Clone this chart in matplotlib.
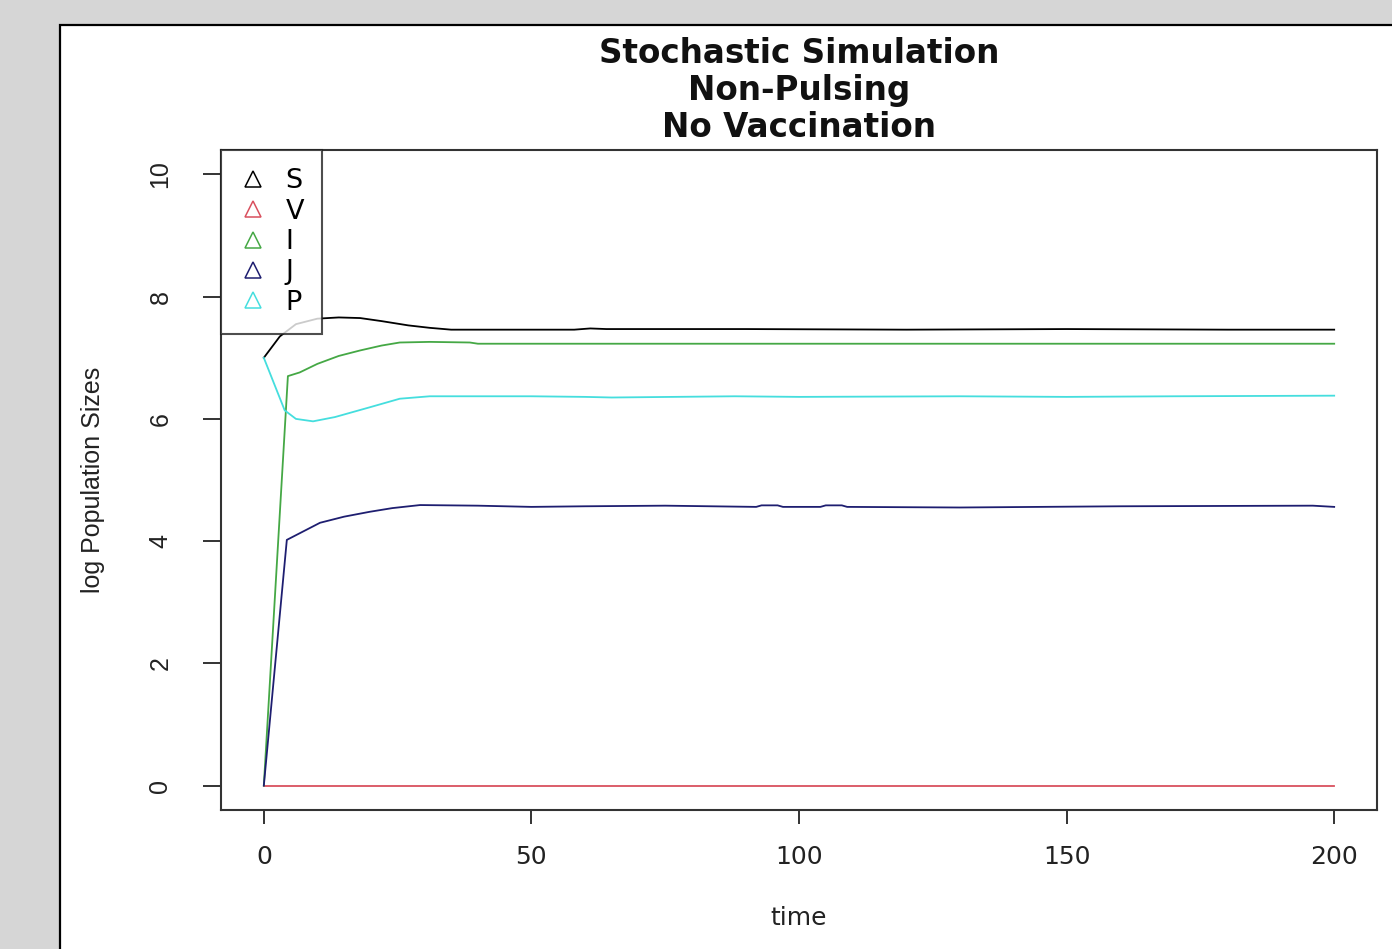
import matplotlib.pyplot as plt
from matplotlib.patches import Rectangle
from matplotlib.lines import Line2D

# log population sizes
S_t = [0, 3, 6, 10, 14, 18, 22, 27, 31, 35, 45, 58, 61, 64, 90, 120, 150, 180, 200]
S_v = [7.00, 7.35, 7.55, 7.64, 7.66, 7.65, 7.60, 7.53, 7.49, 7.46, 7.46, 7.46, 7.48, 7.47, 7.47, 7.46, 7.47, 7.46, 7.46]

V_t = [0, 200]
V_v = [0.0, 0.0]

I_t = [0, 4.5, 6.7, 10, 14, 18, 22, 25.4, 31, 38.5, 40, 80, 120, 160, 200]
I_v = [0.0, 6.70, 6.76, 6.90, 7.03, 7.12, 7.20, 7.25, 7.26, 7.25, 7.23, 7.23, 7.23, 7.23, 7.23]

J_t = [0, 4.3, 10.5, 15, 19.8, 24, 29.2, 40, 50, 60, 75, 92, 93, 96, 97, 104, 105, 108, 109, 130, 160, 196, 200]
J_v = [0.0, 4.02, 4.30, 4.40, 4.48, 4.54, 4.59, 4.58, 4.56, 4.57, 4.58, 4.56, 4.585, 4.585, 4.56, 4.56, 4.585, 4.585, 4.56, 4.55, 4.57, 4.58, 4.56]

P_t = [0, 3.9, 6, 9.2, 13.3, 19.8, 25.4, 31, 50, 60, 65, 88, 100, 130, 150, 170, 200]
P_v = [7.00, 6.14, 6.00, 5.96, 6.03, 6.19, 6.33, 6.37, 6.37, 6.36, 6.35, 6.37, 6.36, 6.37, 6.36, 6.37, 6.38]

labels = ['S', 'V', 'I', 'J', 'P']
colors = ['black', '#d9505e', '#45a845', '#1e1e70', '#45dede']

x_ticks = [0, 50, 100, 150, 200]
y_ticks = [0, 2, 4, 6, 8, 10]

fig = plt.figure(figsize=(13.92, 9.49), dpi=100)
fig.patch.set_facecolor('#d6d6d6')
panel = Rectangle((60 / 1392, -0.1), 1.2, 0.1 + (949 - 25) / 949,
                  transform=fig.transFigure, facecolor='white',
                  edgecolor='black', linewidth=1.6, zorder=-10)
fig.patches.append(panel)

ax = fig.add_axes([221 / 1392, (949 - 810) / 949, (1377 - 221) / 1392, (810 - 150) / 949])
ax.set_zorder(1)
ax.set_facecolor('white')

series = [(S_t, S_v), (V_t, V_v), (I_t, I_v), (J_t, J_v), (P_t, P_v)]
for (t, v), c in zip(series, colors):
    ax.plot(t, v, color=c, linewidth=1.3)

ax.set_xlim(-8, 208)
ax.set_ylim(-0.4, 10.4)
ax.set_xticks(x_ticks)
ax.set_yticks(y_ticks)
ax.set_xticklabels([str(x) for x in x_ticks], fontsize=18, color='#222222')
ax.set_yticklabels([str(y) for y in y_ticks], fontsize=18, color='#222222',
                   rotation=90, va='center', family='Liberation Sans')
ax.tick_params(axis='x', length=10, width=1.4, pad=15, color='#333333')
ax.tick_params(axis='y', length=13, width=1.4, pad=22, color='#333333')
for sp in ax.spines.values():
    sp.set_linewidth(1.5)
    sp.set_color('#333333')

ax.set_xlabel('time', fontsize=18, color='#222222', labelpad=27)
ax.set_ylabel('log Population Sizes', fontsize=18, color='#222222',
              family='Liberation Sans', labelpad=31)

fig.text(799 / 1392, 1 - 90.5 / 949, 'Stochastic Simulation\nNon-Pulsing\nNo Vaccination',
         ha='center', va='center', fontsize=23.5, fontweight='bold',
         linespacing=1.17, color='#111111')

handles = [Line2D([], [], linestyle='none', marker='^', markersize=12,
                  markerfacecolor='none', markeredgecolor=c, markeredgewidth=1.1)
           for c in colors]
leg = ax.legend(handles, labels, loc='upper left', bbox_to_anchor=(0, 1),
                borderaxespad=0, fontsize=19.5, frameon=True, fancybox=False,
                handlelength=1.0, handletextpad=0.7, labelspacing=0.16,
                borderpad=0.68)
leg.get_frame().set_edgecolor('#222222')
leg.get_frame().set_linewidth(1.5)

fig.savefig('out.png', dpi=100, facecolor=fig.get_facecolor())
